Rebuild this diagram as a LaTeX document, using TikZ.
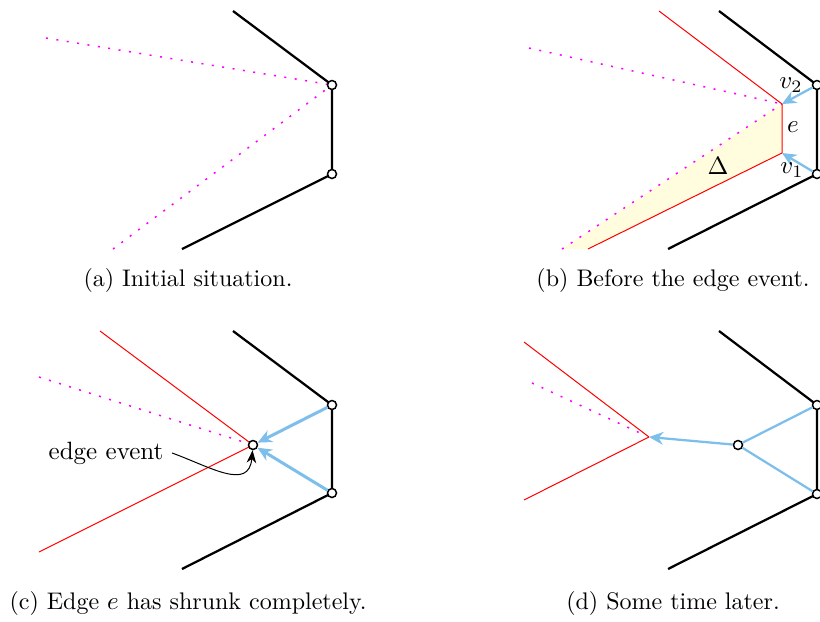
\documentclass[tikz,border=0pt]{standalone}
\usepackage{amsmath}
\usepackage{tikz}
\usetikzlibrary{arrows.meta, positioning}
\definecolor{cMove}{RGB}{125,190,235}
\definecolor{cArc}{RGB}{255,0,0}
\definecolor{cBis}{RGB}{255,0,255}
\definecolor{cSweep}{RGB}{255,253,222}
\tikzset{
	vtx/.style    ={circle, draw=black, fill=white, line width=0.6pt, minimum size=3.6pt, inner sep=0pt},
	wave/.style   ={line width=0.9pt},
	arcln/.style  ={draw=cArc, line width=0.4pt},
	bisec/.style  ={draw=cBis, line width=0.6pt, dash pattern=on 0.8pt off 3.4pt},
	motion/.style ={draw=cMove, line width=0.9pt, -{Stealth[length=2mm, width=1.8mm]}},
	trail/.style  ={draw=cMove, line width=0.9pt},
	caption/.style={font=\fontsize{9.6}{11}\selectfont},
}
\begin{document}
\begin{tikzpicture}[x=0.4pt, y=-0.4pt]
	\useasboundingbox (0,0) rectangle (820,621);
	% (a) initial situation
	\coordinate (aT) at (233,11); \coordinate (aB) at (182,249);
	\coordinate (aL) at (46,38); \coordinate (aD) at (113,249);
	\draw[bisec] (aL) -- (332,85); \draw[bisec] (aD) -- (332,85);
	\draw[wave] (aT) -- (332,85) -- (332,174) -- (aB);
	\node[vtx] (a2) at (332,85) {}; \node[vtx] (a1) at (332,174) {};
	\node[caption] (capA) at (188,280) {(a) Initial situation.};
	% (b) before the edge event
	\coordinate (p2) at (782,104); \coordinate (p1) at (782,153);
	\coordinate (bL) at (529,48); \coordinate (bD) at (562,249);
	\coordinate (rT) at (659,11); \coordinate (rB) at (588,249);
	\fill[cSweep] (bD) -- (p2) -- (p1) -- (rB) -- cycle;
	\draw[bisec] (bL) -- (p2); \draw[bisec] (bD) -- (p2);
	\draw[arcln] (rT) -- (p2) -- (p1) -- (rB);
	\draw[wave] (719,11) -- (817,85) -- (817,174) -- (668,249);
	\node[vtx] (b2) at (817,85) {}; \node[vtx] (b1) at (817,174) {};
	\draw[motion] (b2) -- (p2); \draw[motion] (b1) -- (p1);
	\node (lv2) at (791,85) {$v_2$};
	\node (le) at (793,127) {$e$};
	\node (lv1) at (792,170) {$v_1$};
	\node (ld) at (718,166) {$\Delta$};
	\node[caption] (capB) at (673,280) {(b) Before the edge event.};
	% (c) edge e has shrunk
	\draw[wave] (233,331) -- (332,405) -- (332,493) -- (182,569);
	\node[vtx] (c2) at (332,405) {}; \node[vtx] (c1) at (332,493) {};
	\draw[arcln] (100,331) -- (253,445); \draw[arcln] (39,552) -- (253,445);
	\draw[bisec] (39,377) -- (253,445);
	\node[vtx] (ev) at (253,445) {};
	\draw[motion, line width=1.2pt] (c2) -- (ev); \draw[motion, line width=1.2pt] (c1) -- (ev);
	\node (evl) at (106,453) {edge event};
	\draw[-{Stealth[length=1.8mm]}] (evl.east) to[out=-20, in=-95, looseness=1.3] (ev);
	\node[caption] (capC) at (188,603) {(c) Edge $e$ has shrunk completely.};
	% (d) some time later
	\coordinate (q) at (649,437);
	\draw[bisec] (532,383) -- (640,433);
	\draw[arcln] (524,342) -- (q); \draw[arcln] (524,500) -- (q);
	\draw[wave] (719,331) -- (817,405) -- (817,494) -- (668,569);
	\node[vtx] (d2) at (817,405) {}; \node[vtx] (d1) at (817,494) {};
	\node[vtx] (dn) at (738,445) {};
	\draw[trail] (d2) -- (dn); \draw[trail] (d1) -- (dn);
	\draw[motion] (dn) -- (q);
	\node[caption] (capD) at (673,603) {(d) Some time later.};
\end{tikzpicture}
\end{document}
